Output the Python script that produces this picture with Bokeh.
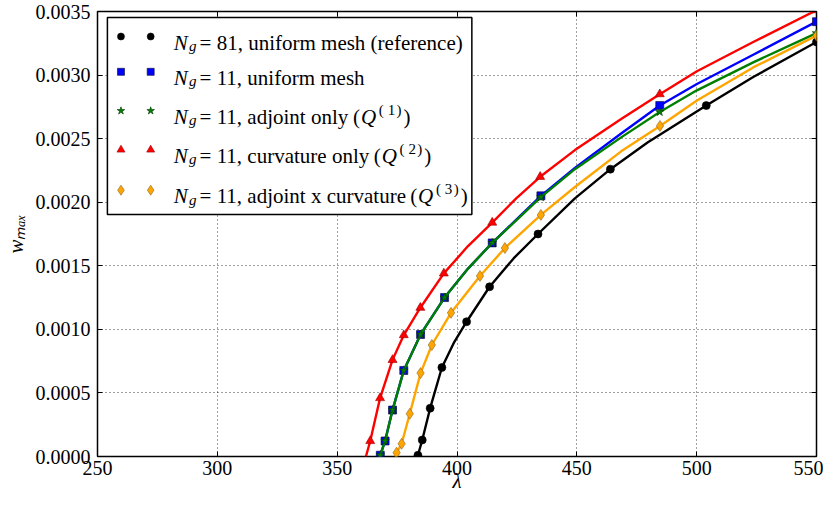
from bokeh.plotting import figure
from bokeh.models import Range1d, LinearAxis, Label, FixedTicker, NumeralTickFormatter, CustomJSTickFormatter
from bokeh.embed import file_html
from bokeh.resources import INLINE

# ---------------- data ----------------
x_ticks = [250, 300, 350, 400, 450, 500, 550]
y_ticks = [0.0, 0.0005, 0.0010, 0.0015, 0.0020, 0.0025, 0.0030, 0.0035]

# N_g = 81, uniform mesh (reference): markers
lam_ref = [383.7, 385.5, 388.8, 393.7, 404.0, 413.6, 433.8, 464.0, 504.0, 550.0]
w_ref = [0.00001, 0.00013, 0.00038, 0.00070, 0.00106, 0.001335, 0.00175, 0.00226, 0.00276, 0.00326]
# its curve
lam_ref_c = [383.4, 383.7, 385.5, 388.8, 393.7, 398.85, 404.0, 413.6, 423.7, 433.8, 449.2, 464.0, 479.5, 504.0, 523.6, 550.0]
w_ref_c = [0.0, 0.00001, 0.00013, 0.00038, 0.00070, 0.00090, 0.00106, 0.001335, 0.00156, 0.00175, 0.00203, 0.00226, 0.00247, 0.00276, 0.002985, 0.00326]

# N_g = 11, uniform mesh
lam_uni = [368.0, 370.0, 373.1, 377.8, 384.8, 394.8, 414.7, 435.0, 484.6, 550.0]
w_uni = [0.00001, 0.000122, 0.000365, 0.000677, 0.00096, 0.00125, 0.00168, 0.00205, 0.00276, 0.00342]
lam_uni_c = [367.7, 368.0, 370.0, 373.1, 377.8, 384.8, 394.8, 404.7, 414.7, 435.0, 449.2, 468.5, 484.6, 500.1, 523.6, 550.0]
w_uni_c = [0.0, 0.00001, 0.000122, 0.000365, 0.000677, 0.00096, 0.00125, 0.00148, 0.00168, 0.00205, 0.00227, 0.00254, 0.00276, 0.00293, 0.00316, 0.00342]

# N_g = 11, adjoint only (Q1)
lam_adj = [368.0, 370.0, 373.1, 377.8, 384.8, 394.8, 414.7, 435.0, 484.6, 550.0]
w_adj = [0.00001, 0.000122, 0.000365, 0.000677, 0.00096, 0.00125, 0.00168, 0.00204, 0.00271, 0.00333]
lam_adj_c = [367.7, 368.0, 370.0, 373.1, 377.8, 384.8, 394.8, 404.7, 414.7, 435.0, 449.2, 468.5, 484.6, 500.1, 523.6, 550.0]
w_adj_c = [0.0, 0.00001, 0.000122, 0.000365, 0.000677, 0.00096, 0.00125, 0.00148, 0.00168, 0.00204, 0.00226, 0.00251, 0.00271, 0.00288, 0.00310, 0.00333]

# N_g = 11, curvature only (Q2)
lam_curv = [363.8, 367.9, 373.1, 377.8, 384.7, 394.5, 414.7, 434.7, 484.6, 550.0]
w_curv = [0.000122, 0.00046, 0.00076, 0.000955, 0.00117, 0.00144, 0.00184, 0.0022, 0.00285, 0.00351]
lam_curv_c = [362.0, 363.8, 367.9, 373.1, 377.8, 384.7, 394.5, 404.6, 414.7, 424.7, 434.7, 449.2, 468.5, 484.6, 500.1, 523.6, 550.0]
w_curv_c = [0.0, 0.000122, 0.00046, 0.00076, 0.000955, 0.00117, 0.00144, 0.001655, 0.00184, 0.00203, 0.0022, 0.00241, 0.002655, 0.00285, 0.00303, 0.00326, 0.00351]

# N_g = 11, adjoint x curvature (Q3)
lam_ac = [374.8, 376.9, 380.3, 384.8, 389.5, 397.5, 409.6, 420.0, 435.0, 484.7, 550.0]
w_ac = [0.00003, 0.0001, 0.000336, 0.000656, 0.000877, 0.00113, 0.00142, 0.00164, 0.0019, 0.0026, 0.00331]
lam_ac_c = [374.1, 374.8, 376.9, 380.3, 384.8, 389.5, 397.5, 409.6, 420.0, 435.0, 449.2, 468.5, 484.7, 500.1, 523.6, 550.0]
w_ac_c = [0.0, 0.00003, 0.0001, 0.000336, 0.000656, 0.000877, 0.00113, 0.00142, 0.00164, 0.0019, 0.00212, 0.0024, 0.0026, 0.00280, 0.00306, 0.00331]

legend_counts = ["81", "11", "11", "11", "11"]
legend_desc = ["uniform mesh (reference)", "uniform mesh", "adjoint only",
               "curvature only", "adjoint x curvature"]
legend_q = [None, None, "1", "2", "3"]

# ---------------- layout ----------------
FONT = "Liberation Serif"
W, H = 823, 497
ML, MR, MT, MB = 90, 7, 11, 41
FW, FH = W - ML - MR, H - MT - MB

p = figure(width=W, height=H, output_backend="svg", toolbar_location=None,
           x_range=Range1d(250, 550), y_range=Range1d(0, 0.0035),
           min_border_left=ML, min_border_right=MR, min_border_top=MT, min_border_bottom=MB)
p.extra_x_ranges = {"px": Range1d(0, FW)}
p.extra_y_ranges = {"py": Range1d(0, FH)}

p.background_fill_color = "white"
p.border_fill_color = "white"
p.outline_line_color = "black"
p.outline_line_width = 1.5
p.outline_line_alpha = 1.0

xa = p.xaxis[0]
ya = p.yaxis[0]
xa.ticker = FixedTicker(ticks=x_ticks)
ya.ticker = FixedTicker(ticks=y_ticks)
ya.formatter = NumeralTickFormatter(format="0.0000")
for ax in (xa, ya):
    ax.axis_line_color = None
    ax.major_tick_in = 5
    ax.major_tick_out = 0
    ax.major_tick_line_color = "black"
    ax.minor_tick_line_color = None
    ax.major_label_text_font = FONT
    ax.major_label_text_font_size = "20px"
    ax.major_label_text_color = "black"
    ax.axis_label_text_font = FONT
    ax.axis_label_text_font_size = "21px"
    ax.axis_label_text_font_style = "italic"
    ax.axis_label_text_color = "black"
xa.major_label_standoff = 4
ya.major_label_standoff = 7
xa.axis_label = "λ"
xa.axis_label_standoff = -9
ya.axis_label = "wₘₐₓ"
ya.axis_label_standoff = 5

p.grid.grid_line_color = "black"
p.grid.grid_line_dash = "1 3"
p.grid.grid_line_width = 1
p.grid.grid_line_alpha = 0.75

# ticks on top and right, no labels
blank = CustomJSTickFormatter(code="return ''")
top_ax = LinearAxis(ticker=FixedTicker(ticks=x_ticks), formatter=blank, axis_line_color=None,
                    major_tick_in=5, major_tick_out=0, minor_tick_line_color=None,
                    major_label_standoff=0)
right_ax = LinearAxis(ticker=FixedTicker(ticks=y_ticks), formatter=blank, axis_line_color=None,
                      major_tick_in=5, major_tick_out=0, minor_tick_line_color=None,
                      major_label_standoff=0)
p.add_layout(top_ax, "above")
p.add_layout(right_ax, "right")

# ---------------- series ----------------
styles = [
    (lam_ref, w_ref, lam_ref_c, w_ref_c, "#000000", "circle", 8, "#000000", "#000000"),
    (lam_uni, w_uni, lam_uni_c, w_uni_c, "#0000ff", "square", 8, "#0000ff", "#000033"),
    (lam_adj, w_adj, lam_adj_c, w_adj_c, "#008000", "star", 9, "#008000", "#003300"),
    (lam_curv, w_curv, lam_curv_c, w_curv_c, "#ff0000", "triangle", 9, "#ff0000", "#990000"),
    (lam_ac, w_ac, lam_ac_c, w_ac_c, "#ffa500", "diamond", 11, "#ffa500", "#886633"),
]
for lam, w, lc_x, lc_y, col, mk, sz, fc, lc in styles:
    p.line(x=lc_x, y=lc_y, line_color=col, line_width=2.4, line_join="round")
    p.scatter(x=lam, y=w, marker=mk, size=sz, fill_color=fc, line_color=lc, line_width=0.6)

# ---------------- legend (frame-pixel coordinates, origin at frame bottom-left) ----------------
p.quad(left=[10], right=[378], top=[439], bottom=[242], fill_color="white", fill_alpha=1.0,
       line_color="black", line_width=1.5, x_range_name="px", y_range_name="py", level="annotation")

row_py = [420.0, 384.7, 345.7, 306.7, 266.3]
mark_px = [23.7, 53.7]

TW = {' ': .25, '=': .564, ',': .25, '(': .333, ')': .333, 'a': .444, 'c': .444, 'd': .5, 'e': .444,
      'f': .333, 'h': .5, 'i': .278, 'j': .278, 'l': .278, 'm': .778, 'n': .5, 'o': .5, 'r': .333,
      's': .389, 't': .278, 'u': .5, 'v': .5, 'x': .5, 'y': .5}


def tw(s, size):
    return sum(TW.get(ch, 0.5) for ch in s) * size


def txt(x, y, s, size, italic=False):
    p.add_layout(Label(x=x, y=y, x_range_name="px", y_range_name="py", text=s,
                       text_font=FONT, text_font_size=f"{size}px",
                       text_font_style="italic" if italic else "normal",
                       text_color="black", text_align="left", text_baseline="alphabetic",
                       level="overlay"))


for i, st in enumerate(styles):
    col, mk, sz, fc, lc = st[4:]
    cy = row_py[i]
    p.scatter(x=mark_px, y=[cy, cy], marker=mk, size=sz - 1, fill_color=fc, line_color=lc,
              line_width=0.6, x_range_name="px", y_range_name="py", level="overlay")
    base = cy - 6.0
    txt(77, base, "N", 21, italic=True)
    txt(92.5, base - 3.5, "g", 15, italic=True)
    txt(103, base, "=", 21)
    rest = f"{legend_counts[i]}, {legend_desc[i]} "
    txt(120.3, base, rest.rstrip(), 21)
    if legend_q[i] is not None:
        x0 = 120.3 + tw(rest, 21)
        txt(x0, base, "(", 21)
        txt(x0 + 8, base, "Q", 21, italic=True)
        txt(x0 + 26, base + 7, "(", 15)
        txt(x0 + 35, base + 7, legend_q[i], 15)
        txt(x0 + 44, base + 7, ")", 15)
        txt(x0 + 51, base, ")", 21)

open("out.html", "w").write(file_html(p, INLINE))
